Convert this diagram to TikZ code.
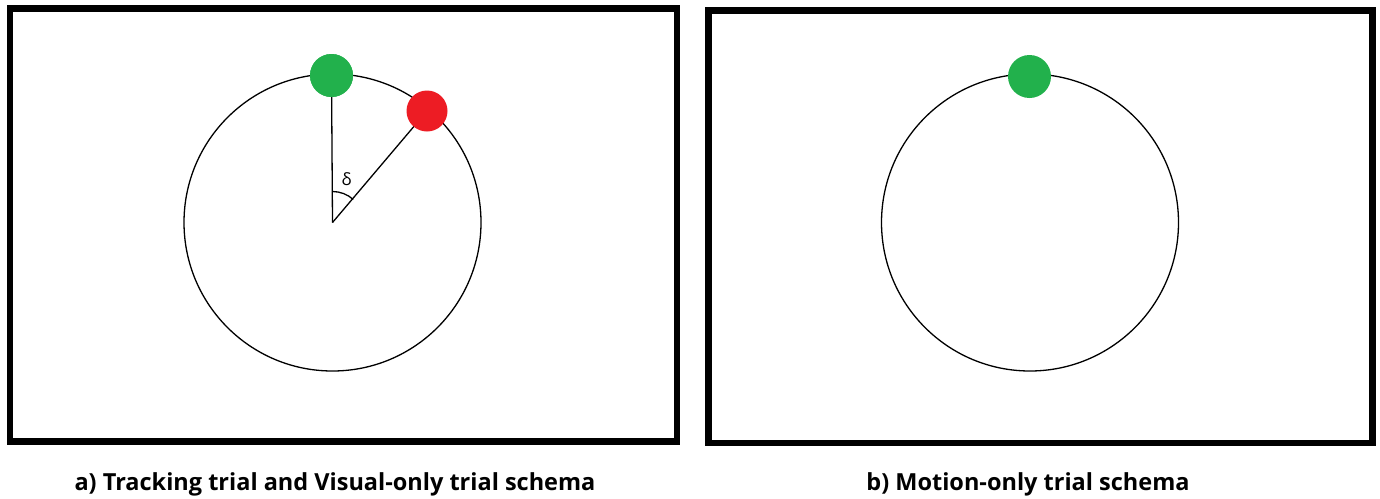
\documentclass[tikz,border=0pt]{standalone}
\usepackage{fontspec}
\setmainfont{Open Sans}
\definecolor{dotgreen}{RGB}{34,177,76}
\definecolor{dotred}{RGB}{237,28,36}
\tikzset{
  frame/.style={draw=black, line width=6.5pt},
  orbit/.style={draw=black, line width=1.3pt},
  dot/.style={circle, minimum size=#1, inner sep=0pt, draw=none},
  spoke/.style={draw=black, line width=1.3pt},
  caption/.style={font=\fontsize{23.5}{28}\selectfont\bfseries, anchor=center, inner sep=0pt}
}
\begin{document}
\begin{tikzpicture}[x=1pt, y=-1pt]
\useasboundingbox (0,0) rectangle (1380,498);
\fill[white] (0,0) rectangle (1380,498);

% panel frames
\draw[frame] (10,8.5) rectangle (677,441.5);
\draw[frame] (708.5,10.5) rectangle (1372.5,443);

% left panel: orbit with target and cursor
\coordinate (c1) at (332.5,222.5);
\draw[orbit] (c1) circle[radius=148.5];
\node[dot=43pt, fill=dotgreen] (g1) at (331.5,75.5) {};
\coordinate (r1c) at (427,111);
\draw[spoke] (c1) -- (g1.center);
\draw[spoke] (c1) -- (r1c);
\node[dot=41pt, fill=dotred] (r1) at (r1c) {};
\node[dot=43pt, fill=dotgreen] at (331.5,75.5) {};
\draw[spoke] (c1) ++(0,-31) arc[start angle=-90, end angle=-48, radius=31];
\node[font=\fontsize{17}{20}\selectfont, inner sep=0pt] (delta) at (346.5,179) {δ};

% right panel: orbit with target only
\coordinate (c2) at (1030,222.5);
\draw[orbit] (c2) circle[radius=148.5];
\node[dot=43pt, fill=dotgreen] (g2) at (1029.5,76.5) {};

% captions
\node[caption] (capa) at (335,484) {a) Tracking trial and Visual-only trial schema};
\node[caption] (capb) at (1028,484) {b) Motion-only trial schema};
\end{tikzpicture}
\end{document}
